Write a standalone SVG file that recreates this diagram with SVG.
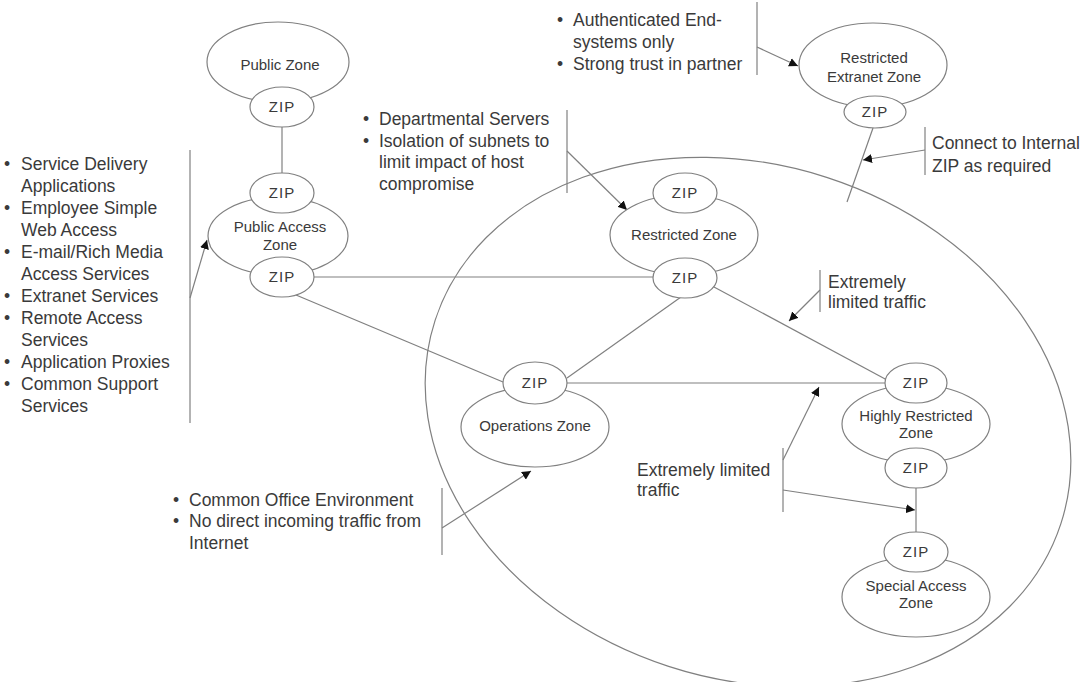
<svg xmlns="http://www.w3.org/2000/svg" width="1083" height="682" viewBox="0 0 1083 682">
  <style>
    .bg { fill: #ffffff; }
    .zone { fill: #ffffff; stroke: #808080; stroke-width: 1.2; }
    .zip { fill: #ffffff; stroke: #808080; stroke-width: 1.2; }
    .lbl { font-family: "Liberation Sans", Arial, sans-serif; font-size: 15px; fill: #3a3a3a; text-anchor: middle; }
    .ziplbl { font-family: "Liberation Sans", Arial, sans-serif; font-size: 15px; fill: #3a3a3a; text-anchor: middle; letter-spacing: 1px; }
    .note { font-family: "Liberation Sans", Arial, sans-serif; font-size: 17.5px; fill: #3a3a3a; }
    .wire { fill: none; stroke: #808080; stroke-width: 1.2; }
    .bar { fill: none; stroke: #808080; stroke-width: 1.2; }
    .ptr { fill: none; stroke: #808080; stroke-width: 1.2; marker-end: url(#head); }
  </style>
  <defs>
    <marker id="head" viewBox="0 0 10 10" refX="10" refY="5" markerWidth="9" markerHeight="9" markerUnits="userSpaceOnUse" orient="auto">
      <path d="M0,0 L10,5 L0,10 z" fill="#111111"/>
    </marker>
  </defs>
  <rect class="bg" x="0" y="0" width="1083" height="682"/>

  <!-- internal boundary -->
  <g id="internal-boundary">
    <ellipse class="wire" cx="748" cy="422" rx="329" ry="257" transform="rotate(18 748 422)"/>
  </g>

  <g id="connectors">
    <line class="wire" x1="282" y1="127" x2="282" y2="173"/>
    <line class="wire" x1="314" y1="277" x2="653" y2="277"/>
    <line class="wire" x1="296" y1="295" x2="503" y2="382"/>
    <line class="wire" x1="567" y1="378" x2="681" y2="297"/>
    <line class="wire" x1="567" y1="383" x2="885" y2="383"/>
    <line class="wire" x1="714" y1="287" x2="887" y2="380"/>
    <line class="wire" x1="916" y1="488" x2="916" y2="532"/>
    <line class="wire" x1="873" y1="128" x2="847" y2="202"/>
  </g>

  <!-- callout brackets and pointers -->
  <g id="callouts">
    <line class="bar" x1="190" y1="150" x2="190" y2="423"/>
    <line class="ptr" x1="190" y1="298" x2="207" y2="240"/>
    <line class="bar" x1="757" y1="2" x2="757" y2="75"/>
    <line class="ptr" x1="757" y1="47" x2="798" y2="66"/>
    <line class="bar" x1="567" y1="110" x2="567" y2="193"/>
    <line class="ptr" x1="567" y1="151" x2="627" y2="210"/>
    <line class="bar" x1="925" y1="127" x2="925" y2="175"/>
    <line class="ptr" x1="925" y1="150" x2="863" y2="160"/>
    <line class="bar" x1="820" y1="270" x2="820" y2="312"/>
    <line class="ptr" x1="820" y1="290" x2="789" y2="321"/>
    <line class="bar" x1="783" y1="448" x2="783" y2="512"/>
    <line class="ptr" x1="783" y1="460" x2="819" y2="387"/>
    <line class="ptr" x1="783" y1="490" x2="915" y2="510"/>
    <line class="bar" x1="442" y1="488" x2="442" y2="555"/>
    <line class="ptr" x1="442" y1="528" x2="531" y2="471"/>
  </g>

  <g id="public-zone">
    <ellipse class="zone" cx="278" cy="62" rx="71" ry="40"/>
    <text class="lbl" x="280" y="70">Public Zone</text>
    <ellipse class="zip" cx="282" cy="107" rx="32" ry="20"/>
    <text class="ziplbl" x="282" y="112">ZIP</text>
  </g>

  <g id="public-access-zone">
    <ellipse class="zone" cx="278" cy="236" rx="70" ry="39"/>
    <text class="lbl" x="280" y="232">Public Access</text>
    <text class="lbl" x="280" y="250">Zone</text>
    <ellipse class="zip" cx="282" cy="193" rx="32" ry="20"/>
    <text class="ziplbl" x="282" y="198">ZIP</text>
    <ellipse class="zip" cx="282" cy="277" rx="32" ry="20"/>
    <text class="ziplbl" x="282" y="282">ZIP</text>
  </g>

  <g id="restricted-extranet-zone">
    <ellipse class="zone" cx="873" cy="65" rx="74" ry="42"/>
    <text class="lbl" x="874" y="63">Restricted</text>
    <text class="lbl" x="874" y="82">Extranet Zone</text>
    <ellipse class="zip" cx="875" cy="112" rx="31" ry="16"/>
    <text class="ziplbl" x="875" y="117">ZIP</text>
  </g>

  <g id="restricted-zone">
    <ellipse class="zone" cx="684" cy="235" rx="74" ry="40"/>
    <text class="lbl" x="684" y="240">Restricted Zone</text>
    <ellipse class="zip" cx="685" cy="193" rx="32" ry="20"/>
    <text class="ziplbl" x="685" y="198">ZIP</text>
    <ellipse class="zip" cx="685" cy="278" rx="32" ry="20"/>
    <text class="ziplbl" x="685" y="283">ZIP</text>
  </g>

  <g id="operations-zone">
    <ellipse class="zone" cx="535" cy="427" rx="74" ry="40"/>
    <text class="lbl" x="535" y="431">Operations Zone</text>
    <ellipse class="zip" cx="535" cy="383" rx="32" ry="21"/>
    <text class="ziplbl" x="535" y="388">ZIP</text>
  </g>

  <g id="highly-restricted-zone">
    <ellipse class="zone" cx="916" cy="424" rx="74" ry="39"/>
    <text class="lbl" x="916" y="421">Highly Restricted</text>
    <text class="lbl" x="916" y="438">Zone</text>
    <ellipse class="zip" cx="916" cy="383" rx="31" ry="20"/>
    <text class="ziplbl" x="916" y="388">ZIP</text>
    <ellipse class="zip" cx="916" cy="468" rx="31" ry="20"/>
    <text class="ziplbl" x="916" y="473">ZIP</text>
  </g>

  <g id="special-access-zone">
    <ellipse class="zone" cx="916" cy="597" rx="74" ry="40"/>
    <text class="lbl" x="916" y="591">Special Access</text>
    <text class="lbl" x="916" y="608">Zone</text>
    <ellipse class="zip" cx="916" cy="552" rx="32" ry="20"/>
    <text class="ziplbl" x="916" y="557">ZIP</text>
  </g>

  <!-- notes -->
  <g id="note-public-access" class="note">
    <text x="4" y="170">•</text><text x="21" y="170">Service Delivery</text>
    <text x="21" y="192">Applications</text>
    <text x="4" y="214">•</text><text x="21" y="214">Employee Simple</text>
    <text x="21" y="236">Web Access</text>
    <text x="4" y="258">•</text><text x="21" y="258">E-mail/Rich Media</text>
    <text x="21" y="280">Access Services</text>
    <text x="4" y="302">•</text><text x="21" y="302">Extranet Services</text>
    <text x="4" y="324">•</text><text x="21" y="324">Remote Access</text>
    <text x="21" y="346">Services</text>
    <text x="4" y="368">•</text><text x="21" y="368">Application Proxies</text>
    <text x="4" y="390">•</text><text x="21" y="390">Common Support</text>
    <text x="21" y="412">Services</text>
  </g>

  <g id="note-extranet" class="note">
    <text x="557" y="26">•</text><text x="573" y="26">Authenticated End-</text>
    <text x="573" y="48">systems only</text>
    <text x="557" y="70">•</text><text x="573" y="70">Strong trust in partner</text>
  </g>

  <g id="note-restricted" class="note">
    <text x="363" y="125">•</text><text x="379" y="125">Departmental Servers</text>
    <text x="363" y="147">•</text><text x="379" y="147">Isolation of subnets to</text>
    <text x="379" y="168">limit impact of host</text>
    <text x="379" y="190">compromise</text>
  </g>

  <g id="note-connect" class="note">
    <text x="932" y="149">Connect to Internal</text>
    <text x="932" y="172">ZIP as required</text>
  </g>

  <g id="note-limited-upper" class="note">
    <text x="828" y="288">Extremely</text>
    <text x="828" y="308">limited traffic</text>
  </g>

  <g id="note-limited-lower" class="note">
    <text x="637" y="476">Extremely limited</text>
    <text x="637" y="496">traffic</text>
  </g>

  <g id="note-operations" class="note">
    <text x="173" y="506">•</text><text x="189" y="506">Common Office Environment</text>
    <text x="173" y="527">•</text><text x="189" y="527">No direct incoming traffic from</text>
    <text x="189" y="549">Internet</text>
  </g>
</svg>
